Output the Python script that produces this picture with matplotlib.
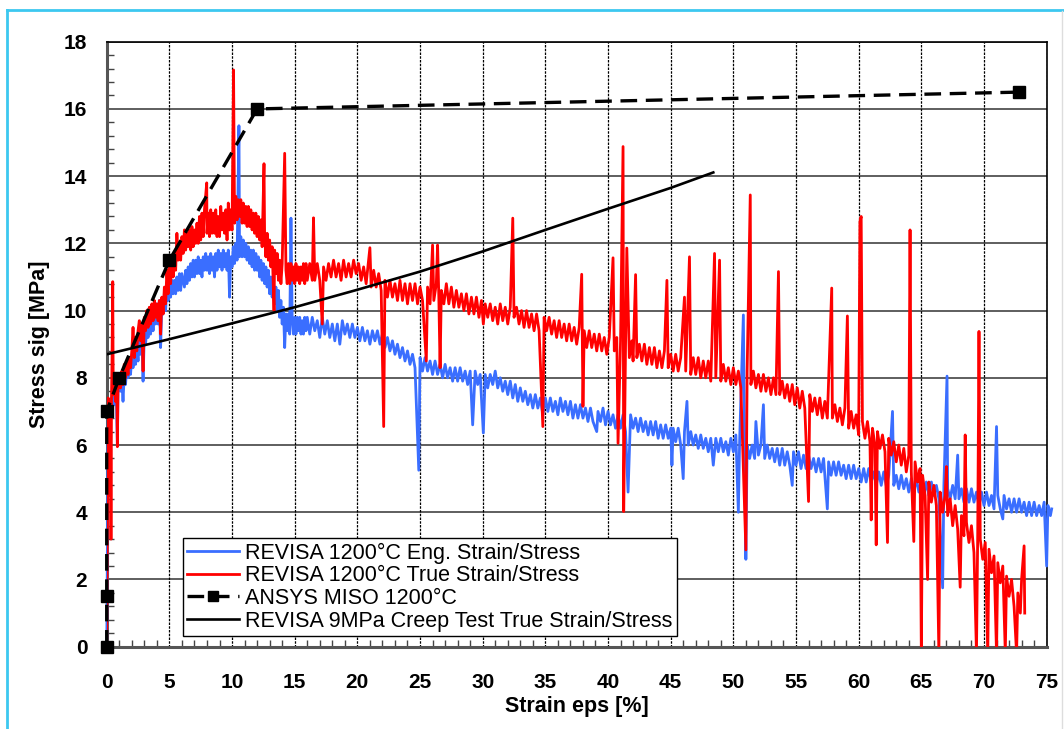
import numpy as np
import matplotlib
matplotlib.use("Agg")
import matplotlib.pyplot as plt
from matplotlib.lines import Line2D
from matplotlib.ticker import MultipleLocator

# ---------------------------------------------------------------------------
# Data (strain in %, stress in MPa)
# ---------------------------------------------------------------------------
ENG_POINTS = [
    (0.0, 0.0), (0.03, 1.2), (0.06, 3.0), (0.08, 4.7), (0.1, 6.0), (0.13, 7.0),
    (0.18, 6.5), (0.22, 7.2), (0.3, 6.8), (0.38, 7.4), (0.45, 7.1), (0.55, 7.5),
    (0.65, 7.2), (0.75, 7.7), (0.85, 6.0), (0.9, 7.6),
    (1.0, 7.9), (1.1, 7.6), (1.2, 8.0), (1.3, 7.3), (1.4, 8.1), (1.5, 7.8),
    (1.6, 8.3), (1.7, 8.0), (1.8, 8.4), (1.9, 8.1), (2.0, 8.6), (2.1, 8.3),
    (2.2, 8.7), (2.3, 8.4), (2.4, 8.9), (2.5, 8.5), (2.6, 9.1), (2.7, 8.7),
    (2.8, 9.2), (2.9, 7.9), (3.0, 9.3), (3.1, 9.0), (3.2, 9.5), (3.3, 9.2),
    (3.4, 9.7), (3.5, 9.3), (3.6, 9.9), (3.7, 9.4), (3.8, 10.0), (3.9, 9.6),
    (4.0, 10.2), (4.1, 9.6), (4.2, 10.3), (4.3, 8.9), (4.4, 10.2), (4.5, 9.9),
    (4.6, 10.5), (4.7, 10.0), (4.8, 10.7), (4.9, 10.3), (5.0, 10.8), (5.1, 10.4),
    (5.2, 10.9), (5.3, 10.5), (5.4, 10.9), (5.5, 10.5), (5.6, 11.0), (5.7, 10.6),
    (5.8, 11.1), (5.9, 10.6), (6.0, 11.1), (6.2, 10.7), (6.3, 11.2), (6.4, 10.8),
    (6.5, 11.3), (6.6, 10.9), (6.7, 11.4), (6.8, 11.0), (6.9, 11.5), (7.0, 11.0),
    (7.1, 11.5), (7.2, 11.1), (7.3, 11.6), (7.4, 11.1), (7.5, 11.5), (7.6, 11.0),
    (7.7, 11.6), (7.8, 11.2), (7.9, 11.7), (8.0, 11.2), (8.1, 11.6), (8.2, 11.1),
    (8.3, 11.7), (8.4, 11.2), (8.5, 11.6), (8.6, 11.0), (8.7, 11.7), (8.8, 11.2),
    (8.9, 11.8), (9.0, 11.3), (9.1, 11.7), (9.2, 11.2), (9.3, 11.8), (9.4, 11.3),
    (9.5, 11.7), (9.6, 11.2), (9.7, 11.8), (9.8, 10.4), (9.9, 11.6), (10.0, 11.3),
    (10.1, 11.9), (10.2, 11.4), (10.3, 12.0), (10.4, 11.5), (10.55, 15.5),
    (10.6, 11.6), (10.7, 12.2), (10.8, 11.6), (10.9, 12.1), (11.0, 11.6),
    (11.1, 12.0), (11.2, 11.5), (11.3, 11.9), (11.4, 11.4), (11.5, 11.8),
    (11.6, 11.3), (11.7, 11.8), (11.8, 11.2), (11.9, 11.7), (12.0, 11.2),
    (12.1, 11.6), (12.2, 11.0), (12.3, 11.5), (12.4, 10.9), (12.5, 11.4),
    (12.6, 10.8), (12.7, 11.3), (12.8, 10.7), (12.9, 11.2), (13.0, 10.5),
    (13.1, 11.0), (13.2, 10.4), (13.3, 10.9), (13.4, 10.2), (13.5, 10.7),
    (13.6, 10.0), (13.7, 10.6), (13.8, 9.8), (13.9, 10.3), (14.0, 9.6),
    (14.1, 10.1), (14.2, 8.9), (14.3, 9.9), (14.4, 9.4), (14.5, 9.9), (14.6, 9.3),
    (14.7, 12.75), (14.8, 9.7), (14.9, 9.3), (15.0, 9.8), (15.1, 9.3), (15.2, 9.8),
    (15.3, 9.4), (15.4, 9.8), (15.5, 9.3), (15.6, 9.7), (15.7, 9.3), (15.8, 9.8),
    (15.9, 9.4), (16.0, 9.8), (16.2, 9.3), (16.4, 9.8), (16.6, 9.4), (16.8, 9.7),
    (17.0, 9.2), (17.2, 9.8), (17.4, 9.3), (17.6, 9.7), (17.8, 9.2), (18.0, 9.6),
    (18.2, 9.1), (18.4, 9.6), (18.6, 9.0), (18.8, 9.7), (19.0, 9.3), (19.2, 9.6),
    (19.4, 9.2), (19.6, 9.6), (19.8, 9.2), (20.0, 9.5), (20.2, 9.1), (20.4, 9.5),
    (20.6, 9.1), (20.8, 9.4), (21.0, 9.0), (21.2, 9.4), (21.4, 9.1), (21.6, 9.4),
    (21.8, 9.0), (22.0, 9.3), (22.2, 8.9), (22.4, 9.2), (22.6, 8.8), (22.8, 9.1),
    (23.0, 8.7), (23.2, 9.0), (23.4, 8.6), (23.6, 8.9), (23.8, 8.5), (24.0, 8.8),
    (24.2, 8.4), (24.4, 8.7), (24.6, 8.3), (24.9, 5.25), (25.0, 8.6), (25.2, 8.2),
    (25.4, 8.6), (25.6, 8.2), (25.8, 8.5), (26.0, 8.1), (26.2, 8.5), (26.4, 8.1),
    (26.6, 8.4), (26.8, 8.0), (27.0, 8.4), (27.2, 8.0), (27.4, 8.3), (27.6, 7.9),
    (27.8, 8.3), (28.0, 7.9), (28.2, 8.3), (28.4, 7.9), (28.6, 8.2), (28.8, 7.8),
    (29.0, 8.2), (29.2, 6.6), (29.4, 8.2), (29.6, 7.8), (29.8, 8.1), (30.05, 6.36),
    (30.2, 8.1), (30.4, 7.7), (30.6, 8.1), (30.8, 7.8), (31.0, 8.2), (31.2, 7.7),
    (31.4, 8.0), (31.6, 7.6), (31.8, 7.9), (32.0, 7.5), (32.2, 7.9), (32.4, 7.4),
    (32.6, 7.8), (32.8, 7.3), (33.0, 7.7), (33.2, 7.3), (33.4, 7.6), (33.6, 7.2),
    (33.8, 7.5), (34.0, 7.1), (34.2, 7.5), (34.4, 7.1), (34.6, 7.4), (34.8, 6.9),
    (35.0, 7.4), (35.2, 7.0), (35.4, 7.4), (35.6, 7.0), (35.8, 7.3), (36.0, 6.9),
    (36.2, 7.4), (36.4, 7.0), (36.6, 7.3), (36.8, 6.9), (37.0, 7.3), (37.2, 6.8),
    (37.4, 7.2), (37.6, 6.8), (37.8, 7.2), (38.0, 6.8), (38.2, 7.1), (38.4, 6.7),
    (38.6, 7.1), (38.8, 6.7), (39.1, 6.4), (39.2, 7.0), (39.4, 6.7), (39.6, 7.1),
    (39.8, 6.6), (40.0, 7.0), (40.2, 6.6), (40.4, 6.9), (40.6, 6.5), (40.8, 6.9),
    (41.0, 6.5), (41.2, 6.9), (41.4, 6.4), (41.6, 4.6), (41.8, 6.9), (42.0, 6.5),
    (42.2, 6.8), (42.4, 6.4), (42.6, 6.8), (42.8, 6.4), (43.0, 6.7), (43.2, 6.3),
    (43.4, 6.7), (43.6, 6.3), (43.8, 6.7), (44.0, 6.2), (44.2, 6.6), (44.4, 6.2),
    (44.6, 6.6), (44.8, 6.2), (45.0, 6.5), (45.1, 5.4), (45.2, 6.5), (45.4, 6.1),
    (45.6, 6.5), (45.8, 6.0), (46.0, 5.0), (46.1, 6.4), (46.3, 7.3), (46.4, 6.0),
    (46.6, 6.4), (46.8, 6.0), (47.0, 6.3), (47.2, 5.9), (47.4, 6.3), (47.6, 5.9),
    (47.8, 6.2), (48.0, 5.8), (48.2, 6.2), (48.4, 5.4), (48.6, 6.2), (48.8, 5.8),
    (49.0, 6.2), (49.2, 5.8), (49.4, 6.1), (49.6, 5.7), (49.8, 6.2), (50.0, 5.8),
    (50.2, 6.3), (50.4, 4.0), (50.5, 6.1), (50.8, 9.87), (50.9, 5.8), (51.0, 2.6),
    (51.1, 6.0), (51.3, 5.6), (51.5, 6.0), (51.7, 5.6), (51.8, 6.7), (52.0, 5.7),
    (52.2, 6.0), (52.4, 7.2), (52.5, 5.6), (52.7, 6.0), (52.9, 5.6), (53.1, 5.9),
    (53.3, 5.5), (53.5, 5.9), (53.7, 5.4), (53.9, 5.9), (54.1, 5.4), (54.3, 5.8),
    (54.5, 5.4), (54.7, 4.8), (54.8, 5.8), (55.0, 5.4), (55.2, 5.8), (55.4, 5.3),
    (55.6, 5.7), (55.8, 5.3), (56.0, 5.7), (56.2, 5.3), (56.4, 5.6), (56.6, 5.2),
    (56.8, 5.6), (57.0, 5.2), (57.2, 5.6), (57.5, 4.1), (57.6, 5.5), (57.8, 5.1),
    (58.0, 5.5), (58.2, 5.1), (58.4, 5.5), (58.6, 5.1), (58.8, 5.4), (59.0, 5.0),
    (59.2, 5.4), (59.4, 5.0), (59.6, 5.4), (59.8, 5.0), (60.0, 5.3), (60.2, 4.9),
    (60.4, 5.3), (60.6, 4.9), (60.8, 5.3), (61.0, 4.9), (61.2, 5.2), (61.4, 4.8),
    (61.6, 5.2), (61.8, 4.8), (62.0, 5.2), (62.2, 4.8), (62.4, 5.1), (62.7, 7.0),
    (62.8, 4.8), (63.0, 5.1), (63.2, 4.7), (63.4, 5.1), (63.6, 4.7), (63.8, 5.0),
    (64.0, 4.6), (64.2, 5.0), (64.4, 4.6), (64.6, 5.0), (64.8, 4.6), (65.0, 4.9),
    (65.2, 4.5), (65.4, 4.9), (65.6, 4.5), (65.8, 4.9), (66.0, 4.5), (66.2, 4.8),
    (66.4, 4.4), (66.7, 1.75), (66.8, 4.8), (67.05, 8.05), (67.1, 4.7), (67.3, 4.4),
    (67.5, 4.8), (67.7, 4.4), (67.9, 5.7), (68.0, 4.4), (68.2, 4.7), (68.4, 4.3),
    (68.6, 4.7), (68.8, 4.3), (69.0, 4.7), (69.2, 4.3), (69.4, 4.6), (69.6, 4.2),
    (69.8, 4.6), (70.0, 4.2), (70.2, 4.6), (70.4, 4.2), (70.6, 4.5), (70.8, 4.1),
    (71.0, 6.55), (71.1, 4.5), (71.3, 4.1), (71.5, 3.8), (71.6, 4.5), (71.8, 4.1),
    (72.0, 4.4), (72.2, 4.0), (72.4, 4.4), (72.6, 4.0), (72.8, 4.4), (73.0, 4.0),
    (73.2, 4.3), (73.4, 3.9), (73.6, 4.3), (73.8, 3.9), (74.0, 4.3), (74.2, 3.9),
    (74.4, 4.2), (74.6, 3.9), (74.8, 4.3), (75.0, 2.4), (75.1, 4.2), (75.3, 3.9),
    (75.4, 4.1),
]

TRUE_POINTS = [
    (0.0, 0.0), (0.03, 2.0), (0.06, 4.0), (0.08, 5.5), (0.1, 6.6), (0.12, 7.4),
    (0.15, 6.0), (0.2, 7.3), (0.25, 4.5), (0.3, 7.2), (0.34, 3.2), (0.38, 7.4),
    (0.42, 8.4), (0.48, 10.86), (0.52, 7.5), (0.6, 7.8), (0.7, 7.3), (0.8, 7.9),
    (0.85, 5.95), (0.9, 7.8), (1.0, 8.1), (1.1, 7.7), (1.2, 8.2), (1.3, 7.8),
    (1.4, 8.4), (1.5, 8.0), (1.6, 8.5), (1.7, 8.1), (1.8, 8.6), (1.9, 8.3),
    (2.0, 8.8), (2.1, 9.5), (2.2, 8.6), (2.3, 9.2), (2.4, 8.8), (2.5, 9.4),
    (2.6, 9.7), (2.7, 9.1), (2.8, 9.6), (2.9, 8.2), (3.0, 9.8), (3.1, 9.4),
    (3.2, 10.0), (3.3, 9.5), (3.4, 10.1), (3.5, 9.6), (3.6, 10.2), (3.7, 9.7),
    (3.8, 10.3), (3.9, 9.8), (4.0, 10.2), (4.1, 9.7), (4.2, 10.3), (4.3, 9.3),
    (4.4, 10.4), (4.5, 9.9), (4.6, 10.7), (4.7, 10.2), (4.8, 11.2), (4.9, 10.5),
    (5.0, 11.4), (5.1, 10.8), (5.2, 11.6), (5.3, 11.0), (5.4, 11.7), (5.5, 11.2),
    (5.6, 12.3), (5.7, 11.5), (5.8, 12.0), (5.9, 11.5), (6.0, 12.2), (6.1, 11.7),
    (6.2, 12.4), (6.3, 11.8), (6.4, 12.3), (6.5, 11.9), (6.6, 12.4), (6.7, 11.8),
    (6.8, 12.5), (6.9, 11.9), (7.0, 12.4), (7.1, 12.0), (7.2, 12.6), (7.3, 12.0),
    (7.4, 12.8), (7.5, 12.1), (7.6, 12.9), (7.7, 12.2), (7.8, 13.0), (7.98, 13.8),
    (8.0, 12.3), (8.1, 12.9), (8.2, 12.2), (8.3, 13.0), (8.4, 12.3), (8.5, 12.9),
    (8.6, 12.3), (8.7, 13.0), (8.8, 12.2), (8.9, 12.8), (9.0, 12.2), (9.1, 13.1),
    (9.2, 12.4), (9.3, 12.9), (9.4, 12.3), (9.5, 13.0), (9.6, 12.1), (9.7, 13.2),
    (9.8, 12.4), (9.9, 13.0), (10.0, 12.4), (10.12, 17.16), (10.2, 12.6),
    (10.3, 13.4), (10.4, 12.7), (10.5, 13.3), (10.6, 12.8), (10.7, 13.3),
    (10.8, 12.6), (10.9, 13.2), (11.0, 12.6), (11.1, 13.1), (11.2, 12.5),
    (11.3, 13.1), (11.4, 12.5), (11.5, 13.0), (11.6, 12.4), (11.7, 12.9),
    (11.8, 12.3), (11.9, 12.9), (12.0, 12.2), (12.1, 12.8), (12.2, 12.1),
    (12.3, 12.7), (12.4, 11.9), (12.55, 14.37), (12.6, 12.2), (12.7, 11.6),
    (12.8, 12.3), (12.9, 11.5), (13.0, 12.1), (13.1, 11.3), (13.2, 11.9),
    (13.35, 10.0), (13.4, 11.8), (13.5, 11.1), (13.6, 11.7), (13.7, 10.9),
    (13.8, 11.5), (13.9, 10.8), (14.0, 11.4), (14.2, 14.68), (14.3, 11.2),
    (14.4, 10.8), (14.5, 11.4), (14.6, 10.8), (14.7, 11.4), (14.8, 10.9),
    (14.9, 11.3), (15.0, 10.8), (15.1, 11.4), (15.2, 10.9), (15.3, 11.3),
    (15.4, 10.8), (15.5, 11.3), (15.6, 10.9), (15.7, 11.4), (15.8, 10.8),
    (15.9, 11.4), (16.0, 10.9), (16.2, 11.4), (16.4, 10.9), (16.5, 12.76),
    (16.6, 10.9), (16.8, 11.4), (17.0, 10.9), (17.2, 9.6), (17.3, 11.3),
    (17.5, 10.9), (17.7, 11.4), (17.9, 11.0), (18.1, 11.5), (18.3, 11.0),
    (18.5, 11.4), (18.7, 10.9), (18.9, 11.5), (19.1, 11.0), (19.3, 11.4),
    (19.5, 11.0), (19.7, 11.5), (19.9, 11.1), (20.1, 11.4), (20.3, 10.9),
    (20.5, 11.3), (20.7, 10.8), (21.0, 11.87), (21.1, 10.7), (21.3, 11.2),
    (21.5, 10.7), (21.7, 11.1), (21.9, 10.6), (22.1, 6.55), (22.2, 10.9),
    (22.4, 10.4), (22.6, 10.9), (22.8, 10.4), (23.0, 10.8), (23.2, 10.3),
    (23.4, 10.9), (23.6, 10.3), (23.8, 10.8), (24.0, 10.2), (24.2, 10.8),
    (24.4, 10.3), (24.6, 10.8), (24.8, 10.2), (25.0, 10.7), (25.2, 10.3),
    (25.5, 8.5), (25.6, 10.7), (25.8, 10.2), (26.0, 11.95), (26.1, 10.3),
    (26.3, 10.8), (26.4, 11.95), (26.5, 10.4), (26.6, 8.3), (26.7, 10.6),
    (26.9, 10.2), (27.1, 10.8), (27.3, 10.2), (27.5, 10.7), (27.7, 10.1),
    (27.9, 10.6), (28.1, 10.1), (28.3, 10.5), (28.5, 10.0), (28.7, 10.5),
    (28.9, 9.9), (29.1, 10.4), (29.3, 9.9), (29.5, 10.4), (29.7, 9.8),
    (29.9, 10.3), (30.05, 9.6), (30.2, 10.2), (30.4, 9.8), (30.6, 10.2),
    (30.8, 9.7), (31.0, 10.1), (31.2, 9.6), (31.4, 10.2), (31.6, 9.7),
    (31.8, 10.1), (32.0, 9.6), (32.2, 10.1), (32.4, 12.75), (32.5, 9.8),
    (32.7, 10.1), (32.9, 9.6), (33.1, 10.0), (33.3, 9.5), (33.5, 10.0),
    (33.7, 9.5), (33.9, 9.9), (34.1, 9.4), (34.3, 9.9), (34.5, 9.4),
    (34.8, 6.55), (34.9, 9.8), (35.1, 9.4), (35.3, 9.8), (35.5, 9.3),
    (35.7, 9.7), (35.9, 9.2), (36.1, 9.7), (36.3, 9.2), (36.5, 9.6), (36.7, 9.1),
    (36.9, 9.6), (37.1, 9.1), (37.3, 9.5), (37.5, 9.0), (37.7, 9.5),
    (37.9, 11.08), (38.0, 7.15), (38.1, 9.4), (38.3, 8.9), (38.5, 9.4),
    (38.7, 8.9), (38.9, 9.3), (39.1, 8.8), (39.3, 9.3), (39.5, 8.8), (39.7, 9.2),
    (39.9, 8.7), (40.1, 9.2), (40.4, 11.57), (40.5, 8.8), (40.7, 9.2),
    (40.8, 6.05), (41.0, 9.1), (41.2, 14.88), (41.25, 4.02), (41.4, 9.0),
    (41.5, 11.86), (41.7, 8.6), (41.9, 9.1), (42.0, 8.5), (42.2, 11.07),
    (42.3, 8.6), (42.5, 9.0), (42.7, 8.5), (42.9, 9.0), (43.1, 8.4), (43.3, 8.9),
    (43.5, 8.4), (43.7, 8.9), (43.9, 8.3), (44.1, 8.8), (44.3, 8.3), (44.5, 8.8),
    (44.7, 10.9), (44.8, 8.3), (45.0, 8.7), (45.2, 8.2), (45.4, 8.7), (45.6, 8.2),
    (45.8, 8.6), (46.1, 10.4), (46.2, 8.2), (46.5, 11.6), (46.6, 8.1),
    (46.8, 8.6), (47.0, 8.1), (47.2, 8.6), (47.4, 8.0), (47.6, 8.5), (47.8, 8.0),
    (48.0, 8.5), (48.2, 7.9), (48.5, 11.7), (48.6, 8.0), (48.9, 11.5),
    (49.0, 7.9), (49.2, 8.4), (49.4, 7.9), (49.6, 8.3), (49.8, 7.8), (50.0, 8.3),
    (50.2, 7.8), (50.4, 8.2), (50.6, 7.7), (51.0, 2.88), (51.1, 8.2),
    (51.35, 13.44), (51.4, 7.8), (51.6, 8.2), (51.8, 7.7), (52.0, 8.1),
    (52.2, 7.6), (52.4, 8.1), (52.6, 7.6), (52.8, 8.0), (53.0, 7.5), (53.2, 8.0),
    (53.4, 7.5), (53.6, 11.16), (53.7, 7.5), (53.9, 7.9), (54.1, 7.4),
    (54.3, 7.8), (54.5, 7.3), (54.7, 7.8), (54.9, 7.2), (55.1, 7.7), (55.3, 7.1),
    (55.5, 7.6), (55.7, 7.1), (56.0, 4.32), (56.1, 7.5), (56.3, 7.0),
    (56.5, 7.4), (56.7, 6.9), (56.9, 7.4), (57.1, 6.8), (57.3, 7.3), (57.5, 6.8),
    (57.85, 10.67), (57.9, 6.8), (58.1, 7.2), (58.3, 6.7), (58.5, 7.1),
    (58.7, 6.6), (58.9, 7.1), (59.1, 9.84), (59.2, 6.5), (59.4, 7.0),
    (59.6, 6.5), (59.8, 6.9), (60.0, 6.3), (60.1, 12.65), (60.2, 12.8),
    (60.3, 6.7), (60.5, 6.2), (60.7, 6.7), (60.9, 6.1), (61.0, 3.77),
    (61.1, 6.5), (61.3, 6.0), (61.4, 3.03), (61.5, 6.4), (61.7, 5.9),
    (61.9, 6.3), (62.1, 5.8), (62.3, 3.1), (62.4, 6.2), (62.6, 5.7), (62.8, 6.1),
    (63.0, 5.5), (63.2, 6.0), (63.4, 5.4), (63.6, 5.9), (63.8, 5.2), (64.0, 5.7),
    (64.1, 12.4), (64.2, 5.2), (64.4, 3.13), (64.5, 5.5), (64.7, 4.9),
    (64.9, 5.3), (65.0, -0.2), (65.1, 5.1), (65.3, 4.5), (65.5, 2.0),
    (65.6, 4.9), (65.8, 4.3), (66.0, 4.8), (66.2, 4.2), (66.4, -0.2),
    (66.5, 4.6), (66.7, 4.0), (66.9, 4.5), (67.0, 5.36), (67.1, 3.9),
    (67.3, 4.4), (67.5, 3.6), (67.7, 4.2), (67.9, 3.5), (68.1, 1.77),
    (68.2, 3.9), (68.4, 3.3), (68.5, 6.3), (68.6, 3.7), (68.8, 3.1), (69.0, 3.6),
    (69.2, 2.8), (69.4, -0.2), (69.5, 3.4), (69.6, 9.38), (69.7, 3.2),
    (69.9, 2.6), (70.1, 3.1), (70.3, -0.2), (70.4, 2.9), (70.6, 2.2),
    (70.8, 2.7), (71.0, -0.2), (71.1, 2.5), (71.3, 1.9), (71.5, 2.4),
    (71.7, -0.2), (71.8, 2.1), (72.0, 1.5), (72.2, 2.0), (72.4, 1.2),
    (72.6, -0.2), (72.7, 1.6), (72.9, 1.0), (73.0, 2.0), (73.2, 3.0),
    (73.25, 1.0),
]

MISO_STRAIN = [0.0, 0.0, 0.0, 1.0, 5.0, 12.0, 72.8]
MISO_STRESS = [0.0, 1.5, 7.0, 8.0, 11.5, 16.0, 16.5]

CREEP_STRAIN = [0.0, 5.0, 10.0, 15.0, 20.0, 25.0, 30.0, 35.0, 40.0, 45.0, 48.4]
CREEP_STRESS = [8.7, 9.15, 9.62, 10.1, 10.62, 11.16, 11.76, 12.4, 13.03, 13.65, 14.11]

X_TICKS = list(range(0, 76, 5))
Y_TICKS = list(range(0, 19, 2))

LEGEND_LABELS = [
    "REVISA 1200°C Eng. Strain/Stress",
    "REVISA 1200°C True Strain/Stress",
    "ANSYS MISO 1200°C",
    "REVISA 9MPa Creep Test True Strain/Stress",
]

BLUE = "#3A6EFF"
RED = "#FF0000"

# ---------------------------------------------------------------------------
plt.rcParams["font.family"] = ["Liberation Sans", "DejaVu Sans"]

fig = plt.figure(figsize=(10.64, 7.29), dpi=100)
ax = fig.add_axes([0.1003, 0.1129, 0.8834, 0.8299])

eng = np.array(ENG_POINTS).T
true = np.array(TRUE_POINTS).T

l_eng, = ax.plot(eng[0], eng[1], color=BLUE, lw=2.0, zorder=3, clip_on=False)
l_true, = ax.plot(true[0], true[1], color=RED, lw=2.0, zorder=4)
l_miso, = ax.plot(MISO_STRAIN, MISO_STRESS, color="black", lw=2.4,
                  dashes=(5, 2.6), marker="s", markersize=8.5,
                  markerfacecolor="black", markeredgecolor="black",
                  zorder=6, clip_on=False)
l_creep, = ax.plot(CREEP_STRAIN, CREEP_STRESS, color="black", lw=1.9, zorder=5)

ax.set_xlim(0, 75)
ax.set_ylim(0, 18)
ax.set_xticks(X_TICKS)
ax.set_yticks(Y_TICKS)
ax.xaxis.set_minor_locator(MultipleLocator(1))
ax.yaxis.set_minor_locator(MultipleLocator(0.4))

# grid: solid horizontal, fine dashed vertical
for yv in Y_TICKS[1:]:
    ax.axhline(yv, color="#333333", lw=1.1, zorder=1)
for xv in X_TICKS[1:]:
    ax.axvline(xv, color="black", lw=0.9, dashes=(2, 1), zorder=1)

ax.tick_params(axis="both", which="both", direction="in", top=False, right=False,
               colors="#444444")
ax.tick_params(axis="both", which="major", length=0)
ax.tick_params(axis="both", which="minor", length=5, width=1)
ax.tick_params(axis="y", which="major", pad=14, labelsize=15, labelcolor="black")
ax.tick_params(axis="x", which="major", pad=19, labelsize=15, labelcolor="black")
for lbl in ax.get_xticklabels() + ax.get_yticklabels():
    lbl.set_fontweight("bold")

for side in ("left", "bottom"):
    ax.spines[side].set_color("#555555")
    ax.spines[side].set_linewidth(2.2)
for side in ("top", "right"):
    ax.spines[side].set_color("black")
    ax.spines[side].set_linewidth(1.2)

ax.set_xlabel("Strain eps [%]", fontsize=15.5, fontweight="bold", labelpad=3)
ax.set_ylabel("Stress sig [MPa]", fontsize=15.5, fontweight="bold", labelpad=10)

leg = ax.legend([l_eng, l_true, l_miso, l_creep], LEGEND_LABELS,
                loc="lower left", bbox_to_anchor=(0.0812, 0.0177),
                borderaxespad=0, fontsize=15.5, fancybox=False,
                framealpha=1, edgecolor="black", handlelength=2.4,
                handletextpad=0.3, labelspacing=0.08, borderpad=0.2,
                markerscale=0.8)
leg.get_frame().set_linewidth(1.0)
leg.set_zorder(10)

# outer frame of the figure
fig.add_artist(Line2D([7 / 1064, 1064 / 1064], [1 - 9.5 / 729] * 2,
                      transform=fig.transFigure, color="#3CC8F0", lw=2))
fig.add_artist(Line2D([7.3 / 1064] * 2, [0, 1 - 9.5 / 729],
                      transform=fig.transFigure, color="#3CC8F0", lw=2))
fig.add_artist(Line2D([1061.5 / 1064] * 2, [0, 1 - 10.5 / 729],
                      transform=fig.transFigure, color="#DDDDDD", lw=1))

fig.savefig("out.png", dpi=100)
